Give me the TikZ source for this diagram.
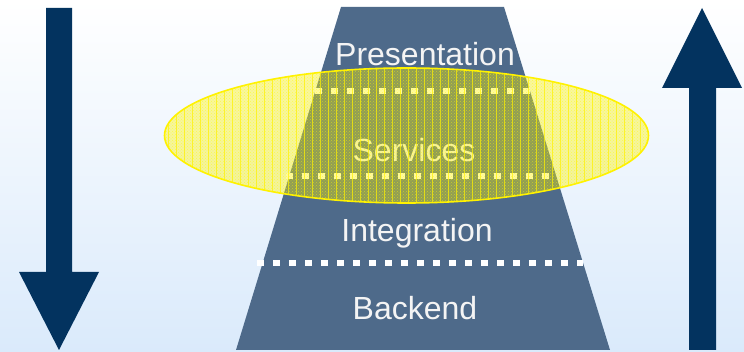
\documentclass[tikz,border=0pt]{standalone}
\usepackage{fontspec}
\setmainfont{Liberation Sans}
\usetikzlibrary{patterns}

\definecolor{bgBlue}{HTML}{DAEAFB}
\definecolor{layerSlate}{HTML}{4E6A8A}
\definecolor{arrowNavy}{HTML}{03335F}
\definecolor{labelWhite}{HTML}{F4F4F4}

\begin{document}
\begin{tikzpicture}[x=1pt,y=-1pt,
		layerlabel/.style={anchor=base,text=labelWhite,inner sep=0pt,
			font=\fontsize{32}{38}\selectfont},
		bigarrow/.style={fill=arrowNavy,draw=none},
		divider/.style={draw=white,line width=6.5pt,dash pattern=on 6.5pt off 9.5pt}]
	\useasboundingbox (0,0) rectangle (744,352);
	\shade[top color=white,bottom color=bgBlue] (0,0) rectangle (744,352);
	
	% stack of layers
	\fill[layerSlate] (341,7) -- (504,7) -- (610,350) -- (236,350) -- cycle;
	\draw[divider] (315,91) -- (531,91);
	\draw[divider] (286,176) -- (557,176);
	\draw[divider] (257,263) -- (583,263);
	
	\node[layerlabel] (presentation) at (425,66) {Presentation};
	\node[layerlabel] (services) at (414,162) {Services};
	\node[layerlabel] (integration) at (417,242) {Integration};
	\node[layerlabel] (backend) at (415,320) {Backend};
	
	% services highlight
	\fill[yellow,fill opacity=0.38] (406.5,135.5) ellipse [x radius=242,y radius=67.5];
	\fill[pattern=crosshatch dots,pattern color=yellow,opacity=0.5]
		(406.5,135.5) ellipse [x radius=242,y radius=67.5];
	\begin{scope}
		\clip (406.5,135.5) ellipse [x radius=242,y radius=67.5];
		\draw[yellow,opacity=0.7,line width=0.9pt,step=8] (160,64) grid (656,208);
	\end{scope}
	\draw[yellow,line width=1.6pt] (406.5,135.5) ellipse [x radius=242,y radius=67.5];
	
	% direction arrows
	\fill[bigarrow] (46,8) -- (72,8) -- (72,272) -- (99,272) -- (59,350)
		-- (19,272) -- (46,272) -- cycle;
	\fill[bigarrow] (689,350) -- (716,350) -- (716,88) -- (742,88) -- (702,8)
		-- (662,88) -- (689,88) -- cycle;
\end{tikzpicture}
\end{document}
